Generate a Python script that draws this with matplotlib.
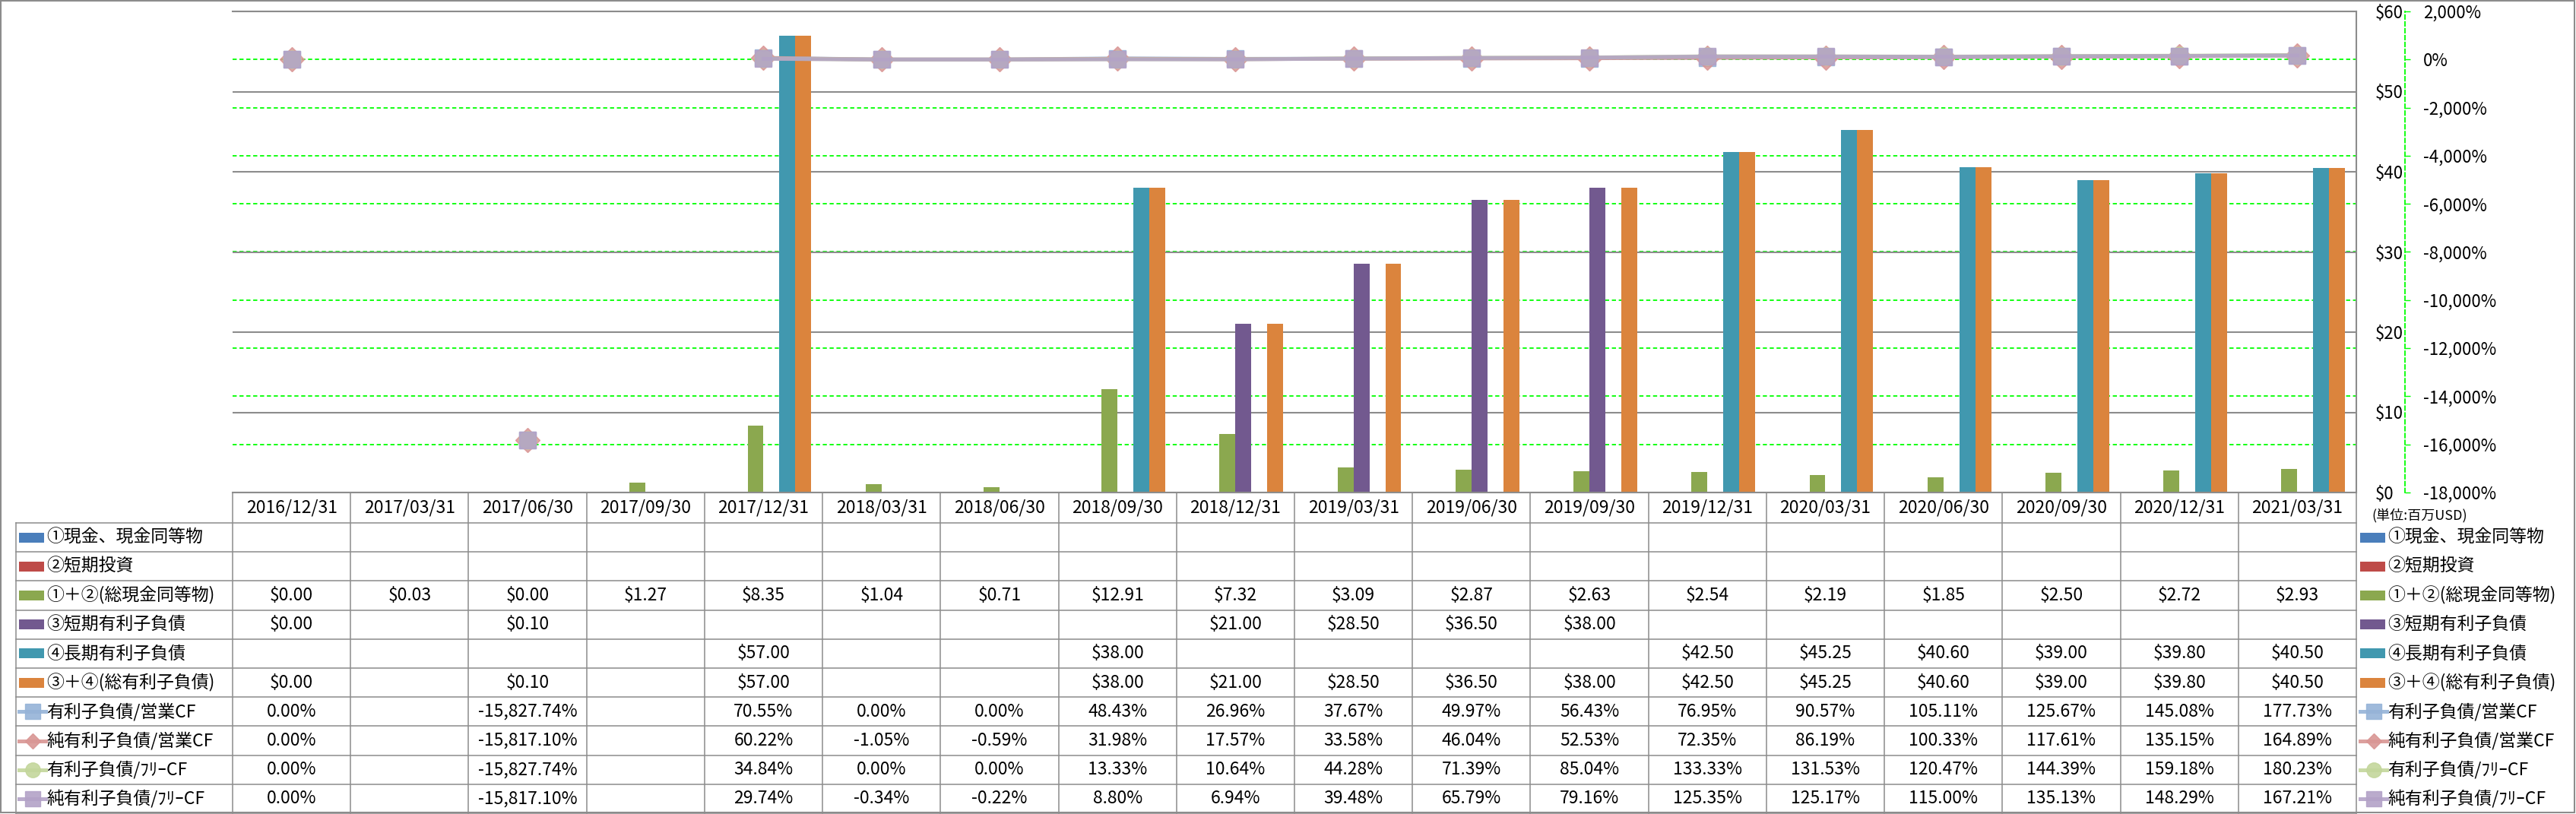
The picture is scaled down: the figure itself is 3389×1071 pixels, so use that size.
import numpy as np
import matplotlib
matplotlib.use("Agg")
import matplotlib.pyplot as plt
from matplotlib.transforms import blended_transform_factory
from matplotlib.lines import Line2D
from matplotlib.patches import Rectangle

plt.rcParams['font.family'] = ['Noto Sans CJK JP', 'DejaVu Sans']

# --- data ---
dates = ['2016/12/31', '2017/03/31', '2017/06/30', '2017/09/30', '2017/12/31',
         '2018/03/31', '2018/06/30', '2018/09/30', '2018/12/31', '2019/03/31',
         '2019/06/30', '2019/09/30', '2019/12/31', '2020/03/31', '2020/06/30',
         '2020/09/30', '2020/12/31', '2021/03/31']

cash = [None] * 18
st_invest = [None] * 18
total_cash = [0.00, 0.03, 0.00, 1.27, 8.35, 1.04, 0.71, 12.91, 7.32, 3.09,
              2.87, 2.63, 2.54, 2.19, 1.85, 2.50, 2.72, 2.93]
st_debt = [0.00, None, 0.10, None, None, None, None, None, 21.00, 28.50,
           36.50, 38.00, None, None, None, None, None, None]
lt_debt = [None, None, None, None, 57.00, None, None, 38.00, None, None,
           None, None, 42.50, 45.25, 40.60, 39.00, 39.80, 40.50]
total_debt = [0.00, None, 0.10, None, 57.00, None, None, 38.00, 21.00, 28.50,
              36.50, 38.00, 42.50, 45.25, 40.60, 39.00, 39.80, 40.50]

debt_ocf = [0.00, None, -15827.74, None, 70.55, 0.00, 0.00, 48.43, 26.96, 37.67,
            49.97, 56.43, 76.95, 90.57, 105.11, 125.67, 145.08, 177.73]
net_debt_ocf = [0.00, None, -15817.10, None, 60.22, -1.05, -0.59, 31.98, 17.57, 33.58,
                46.04, 52.53, 72.35, 86.19, 100.33, 117.61, 135.15, 164.89]
debt_fcf = [0.00, None, -15827.74, None, 34.84, 0.00, 0.00, 13.33, 10.64, 44.28,
            71.39, 85.04, 133.33, 131.53, 120.47, 144.39, 159.18, 180.23]
net_debt_fcf = [0.00, None, -15817.10, None, 29.74, -0.34, -0.22, 8.80, 6.94, 39.48,
                65.79, 79.16, 125.35, 125.17, 115.00, 135.13, 148.29, 167.21]

bar_labels = ['①現金、現金同等物', '②短期投資', '①＋②(総現金同等物)',
              '③短期有利子負債', '④長期有利子負債', '③＋④(総有利子負債)']
bar_values = [cash, st_invest, total_cash, st_debt, lt_debt, total_debt]
bar_colors = ['#4a7ebb', '#be4b48', '#8ba84f', '#72598f', '#4198af', '#db843d']

line_labels = ['有利子負債/営業CF', '純有利子負債/営業CF', '有利子負債/ﾌﾘｰCF', '純有利子負債/ﾌﾘｰCF']
line_values = [debt_ocf, net_debt_ocf, debt_fcf, net_debt_fcf]
line_colors = ['#95b3d7', '#d99694', '#c3d69b', '#b3a2c7']
line_markers = ['s', 'D', 'o', 's']
marker_sizes = [16.5, 16, 16.5, 16.5]
key_marker_sizes = [14, 10.5, 14, 14]

# --- layout (pixels) ---
W, H, DPI = 3389, 1071, 100
PL, PR, PT, PB = 306, 3100, 15, 648
TL = 21
ROW_TOP, ROW_H = 688, 38.2
GRAY = '#8c8c8c'
GREEN = '#00ff00'
PX = 72 / DPI  # points per pixel

fig = plt.figure(figsize=(W / DPI, H / DPI), dpi=DPI)
ax = fig.add_axes([PL / W, 1 - PB / H, (PR - PL) / W, (PB - PT) / H])
ax2 = ax.twinx()
ax3 = ax.twinx()
ax2.set_zorder(1)
ax.set_zorder(2)
ax3.set_zorder(3)
ax2.patch.set_visible(True)
ax2.patch.set_facecolor('white')
ax.patch.set_visible(False)

x = np.arange(len(dates))

# bars (primary axis)
n = len(bar_values)
w = 0.81 / n
for k, (vals, col) in enumerate(zip(bar_values, bar_colors)):
    v = np.array([np.nan if a is None else a for a in vals], dtype=float)
    m = ~np.isnan(v)
    ax.bar(x[m] + (k - (n - 1) / 2) * w, v[m], width=w, color=col, zorder=2)

ax.set_xlim(-0.5, len(dates) - 0.5)
ax.set_ylim(0, 60)
ax.set_yticks(range(0, 61, 10))
ax.set_yticklabels([f'${t}' for t in range(0, 61, 10)])
ax.yaxis.tick_right()
ax.tick_params(axis='y', length=0, pad=25 * PX, labelsize=16)
ax.set_xticks([])
ax.set_axisbelow(True)
ax.yaxis.grid(True, color=GRAY, lw=1.5)
ax.spines['left'].set_visible(False)
for s in ['top', 'right', 'bottom']:
    ax.spines[s].set_color(GRAY)
    ax.spines[s].set_linewidth(1.5)

# secondary axis (behind, holds grid + tick labels)
sec_ticks = list(range(-18000, 2001, 2000))
ax2.set_ylim(-18000, 2000)
ax2.set_yticks(sec_ticks)
ax2.set_yticklabels([f'{t:,}%' for t in sec_ticks])
for lab, t in zip(ax2.get_yticklabels(), sec_ticks):
    lab.set_color('red' if t < 0 else 'black')
ax2.tick_params(axis='y', length=5, width=1, color=GREEN, pad=17 * PX, labelsize=16)
ax2.yaxis.grid(True, color=GREEN, lw=1.3, ls=(0, (3, 2)))
ax2.spines['right'].set_position(('outward', 64 * PX))
ax2.spines['right'].set_color(GREEN)
ax2.spines['right'].set_linestyle((0, (3, 2)))
ax2.spines['right'].set_linewidth(1.3)
for s in ['left', 'top', 'bottom']:
    ax2.spines[s].set_visible(False)

# lines (secondary scale, on top of bars)
for vals, col, mk, ms in zip(line_values, line_colors, line_markers, marker_sizes):
    v = np.array([np.nan if a is None else a for a in vals], dtype=float)
    ax3.plot(x, v, color=col, lw=3.6, marker=mk, ms=ms, mec=col, alpha=0.85)
ax3.set_ylim(-18000, 2000)
ax3.axis('off')

# --- data table ---
tab = fig.add_axes([0, 0, 1, 1], zorder=0)
tab.set_xlim(0, W)
tab.set_ylim(H, 0)
tab.axis('off')
tab.set_autoscale_on(False)
trans = blended_transform_factory(ax.transData, tab.transData)

n_rows = len(bar_labels) + len(line_labels)
TB = ROW_TOP + n_rows * ROW_H
for i in range(len(dates) + 1):
    tab.plot([i - 0.5, i - 0.5], [PB, TB], color=GRAY, lw=1.1, transform=trans, clip_on=False)
tab.plot([TL, TL], [ROW_TOP, TB], color=GRAY, lw=1.1)
for r in range(n_rows + 1):
    tab.plot([TL, PR], [ROW_TOP + r * ROW_H] * 2, color=GRAY, lw=1.1)

FS = 16.5
for i, d in enumerate(dates):
    tab.text(i, (PB + ROW_TOP) / 2, d, transform=trans, ha='center', va='center', fontsize=FS)

rows = []
for vals in bar_values:
    rows.append(['' if a is None else f'${a:,.2f}' for a in vals])
for vals in line_values:
    rows.append(['' if a is None else f'{a:,.2f}%' for a in vals])

for r, cells in enumerate(rows):
    yc = ROW_TOP + (r + 0.5) * ROW_H
    for i, s in enumerate(cells):
        if s:
            tab.text(i, yc, s, transform=trans, ha='center', va='center', fontsize=FS)


def draw_key(x0, yc, r):
    if r < len(bar_labels):
        tab.add_patch(Rectangle((x0, yc - 6.5), 33, 13, color=bar_colors[r], lw=0))
    else:
        j = r - len(bar_labels)
        tab.add_line(Line2D([x0, x0 + 35], [yc, yc], color=line_colors[j], lw=3.6, alpha=0.9))
        tab.add_line(Line2D([x0 + 17.5], [yc], color=line_colors[j], marker=line_markers[j],
                            ms=key_marker_sizes[j], mec=line_colors[j], alpha=0.9))


all_labels = bar_labels + line_labels
for r, lab in enumerate(all_labels):
    yc = ROW_TOP + (r + 0.5) * ROW_H
    draw_key(25, yc, r)
    tab.text(61, yc, lab, ha='left', va='center', fontsize=FS)
    # legend on the right
    draw_key(3105, yc, r)
    tab.text(3141, yc, lab, ha='left', va='center', fontsize=FS)

tab.text(3120, 678, '(単位:百万USD)', ha='left', va='center', fontsize=13)

# outer frame
tab.add_patch(Rectangle((1, 1), W - 3, H - 3, fill=False, ec=GRAY, lw=1.5))

fig.savefig('out.png', dpi=DPI)
